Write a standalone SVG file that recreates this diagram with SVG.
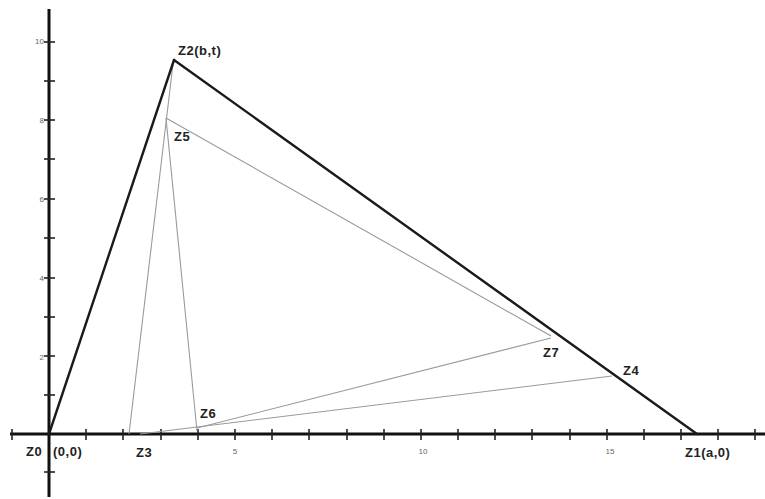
<svg xmlns="http://www.w3.org/2000/svg" width="765" height="499" viewBox="0 0 765 499">
<style>
.axis{stroke:#111;stroke-width:3;fill:none}
.tick{stroke:#222;stroke-width:1.6}
.thick{stroke:#1a1a1a;stroke-width:2.4;fill:none;stroke-linecap:round}
.thin{stroke:#9a9a9a;stroke-width:1.1;fill:none}
.lbl{font-family:"Liberation Sans",Arial,sans-serif;font-size:13px;font-weight:bold;fill:#222;letter-spacing:0.5px}
.num{font-family:"Liberation Sans",Arial,sans-serif;font-size:8px;fill:#666}
</style>
<rect width="765" height="499" fill="#fff"/>
<g id="axes">
<line class="axis" x1="10" y1="434" x2="765" y2="434"/>
<line class="axis" x1="49" y1="9" x2="49" y2="497"/>
<g id="xticks">
<line class="tick" x1="12" y1="429" x2="12" y2="440"/>
<line class="tick" x1="86" y1="429" x2="86" y2="440"/>
<line class="tick" x1="123" y1="429" x2="123" y2="440"/>
<line class="tick" x1="161" y1="429" x2="161" y2="440"/>
<line class="tick" x1="198" y1="429" x2="198" y2="440"/>
<line class="tick" x1="235" y1="429" x2="235" y2="440"/>
<line class="tick" x1="272" y1="429" x2="272" y2="440"/>
<line class="tick" x1="309" y1="429" x2="309" y2="440"/>
<line class="tick" x1="347" y1="429" x2="347" y2="440"/>
<line class="tick" x1="384" y1="429" x2="384" y2="440"/>
<line class="tick" x1="421" y1="429" x2="421" y2="440"/>
<line class="tick" x1="458" y1="429" x2="458" y2="440"/>
<line class="tick" x1="495" y1="429" x2="495" y2="440"/>
<line class="tick" x1="532" y1="429" x2="532" y2="440"/>
<line class="tick" x1="570" y1="429" x2="570" y2="440"/>
<line class="tick" x1="607" y1="429" x2="607" y2="440"/>
<line class="tick" x1="644" y1="429" x2="644" y2="440"/>
<line class="tick" x1="681" y1="429" x2="681" y2="440"/>
<line class="tick" x1="718" y1="429" x2="718" y2="440"/>
<line class="tick" x1="755" y1="429" x2="755" y2="440"/>
</g>
<g id="yticks">
<line class="tick" x1="44" y1="472" x2="55" y2="472"/>
<line class="tick" x1="44" y1="395" x2="55" y2="395"/>
<line class="tick" x1="44" y1="356" x2="55" y2="356"/>
<line class="tick" x1="44" y1="317" x2="55" y2="317"/>
<line class="tick" x1="44" y1="278" x2="55" y2="278"/>
<line class="tick" x1="44" y1="238" x2="55" y2="238"/>
<line class="tick" x1="44" y1="199" x2="55" y2="199"/>
<line class="tick" x1="44" y1="159" x2="55" y2="159"/>
<line class="tick" x1="44" y1="120" x2="55" y2="120"/>
<line class="tick" x1="44" y1="81" x2="55" y2="81"/>
<line class="tick" x1="44" y1="42" x2="55" y2="42"/>
</g>
<text class="num" x="235" y="454" text-anchor="middle">5</text>
<text class="num" x="423" y="454" text-anchor="middle">10</text>
<text class="num" x="610" y="454" text-anchor="middle">15</text>
<text class="num" x="44" y="44" text-anchor="end">10</text>
<text class="num" x="44" y="123" text-anchor="end">8</text>
<text class="num" x="44" y="202" text-anchor="end">6</text>
<text class="num" x="44" y="281" text-anchor="end">4</text>
<text class="num" x="44" y="360" text-anchor="end">2</text>
</g>
<g id="connectors">
<line class="thin" x1="129" y1="434" x2="173" y2="64"/>
<line class="thin" x1="166" y1="118" x2="197" y2="431"/>
<line class="thin" x1="166" y1="118" x2="551" y2="336"/>
<line class="thin" x1="197" y1="428" x2="551" y2="338"/>
<line class="thin" x1="140" y1="434" x2="612" y2="376"/>
<line class="thick" x1="49" y1="434" x2="174" y2="60"/>
<line class="thick" x1="174" y1="60" x2="697" y2="434"/>
</g>
<g id="Z0"><text class="lbl" x="26" y="456">Z0<tspan x="53">(0,0)</tspan></text></g>
<g id="Z1"><text class="lbl" x="685" y="457">Z1(a,0)</text></g>
<g id="Z2"><text class="lbl" x="178" y="55">Z2(b,t)</text></g>
<g id="Z3"><text class="lbl" x="136" y="457">Z3</text></g>
<g id="Z4"><text class="lbl" x="623" y="375">Z4</text></g>
<g id="Z5"><text class="lbl" x="174" y="141">Z5</text></g>
<g id="Z6"><text class="lbl" x="200" y="418">Z6</text></g>
<g id="Z7"><text class="lbl" x="543" y="357">Z7</text></g>
</svg>
